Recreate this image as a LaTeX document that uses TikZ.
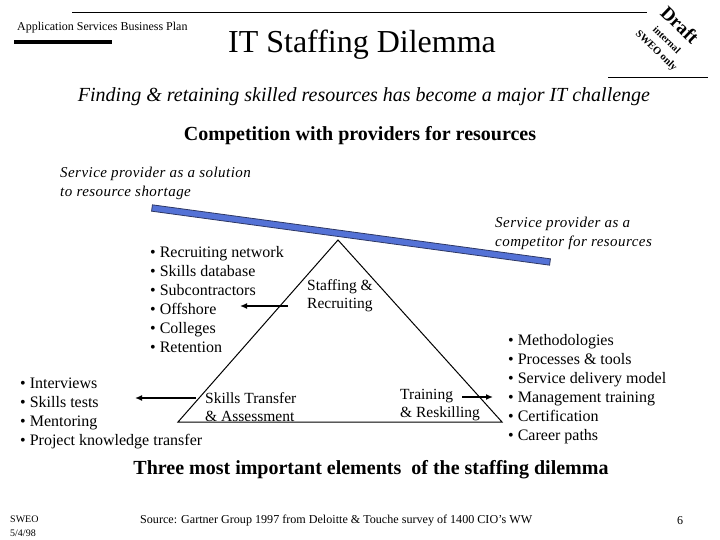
\documentclass[tikz,border=0pt]{standalone}
\usepackage{fontspec}
\setmainfont{Liberation Serif}
\usetikzlibrary{arrows.meta,calc}
\definecolor{barblue}{RGB}{84,114,214}
\definecolor{baredge}{RGB}{45,55,100}
\newcommand{\fsz}[2]{\fontsize{#1}{#2}\selectfont}
\begin{document}
\begin{tikzpicture}[x=1pt,y=-1pt,
  txt/.style={inner sep=0pt,anchor=west,align=left},
  listtxt/.style={txt,font=\fsz{16}{19}},
  labtxt/.style={txt,font=\fsz{15.5}{18}},
  spaced/.style={txt,font=\itshape\fsz{15}{19}\addfontfeature{LetterSpace=3}},
  arr/.style={line width=1.4pt,-{Latex[length=7pt,width=6pt]}},
  stamp/.style={inner sep=0pt,rotate=-44}]
\useasboundingbox (0,0) rectangle (720,540);
\fill[white] (0,0) rectangle (720,540);

% header
\draw[line width=0.8pt] (72,12) -- (647,12);
\node[txt,font=\fsz{12}{13}] (hdr) at (17,28) {Application Services Business Plan};
\draw[line width=4pt] (14,42) -- (112,42);
\node[inner sep=0pt,font=\fsz{32}{36}] (title) at (362,45) {IT Staffing Dilemma};

% draft stamp
\node[stamp,font=\bfseries\fsz{19}{20}] (draft) at (680,25) {Draft};
\node[stamp,font=\bfseries\fsz{10}{11}] (internal) at (667,40) {internal};
\node[stamp,font=\bfseries\fsz{10.5}{11}] (sweo) at (656,51) {SWEO only};
\draw[line width=0.8pt] (608,77) -- (708,77);

% subtitles
\node[inner sep=0pt,font=\itshape\fsz{20}{22}] (finding) at (364,97) {Finding \& retaining skilled resources has become a major IT challenge};
\node[inner sep=0pt,font=\bfseries\fsz{20}{22}] (comp) at (360,136) {Competition with providers for resources};

\node[spaced] (solution) at (60,183) {Service provider as a solution\\to resource shortage};
\node[spaced] (competitor) at (495,233) {Service provider as a\\competitor for resources};

% balance bar
\coordinate (bl) at (152,208);
\coordinate (br) at (550,262);
\filldraw[fill=barblue,draw=baredge,line width=0.8pt]
  ($(bl)!3.2pt!90:(br)$) -- ($(br)!3.2pt!-90:(bl)$) -- ($(br)!3.2pt!90:(bl)$) -- ($(bl)!3.2pt!-90:(br)$) -- cycle;

% triangle
\coordinate (apex) at (338,240);
\coordinate (baseL) at (178,422);
\coordinate (baseR) at (502,422);
\draw[line width=1pt] (baseL) -- (apex) -- (baseR) -- cycle;

% corner labels
\node[labtxt] (staff) at (307,296) {Staffing \&\\Recruiting};
\node[labtxt] (skills) at (205,407) {Skills Transfer\\\& Assessment};
\node[labtxt] (train) at (400,405) {Training\\\& Reskilling};

% lists
\node[listtxt] (listA) at (150,300) {\textbullet\ Recruiting network\\\textbullet\ Skills database\\\textbullet\ Subcontractors\\\textbullet\ Offshore\\\textbullet\ Colleges\\\textbullet\ Retention};
\node[listtxt] (listB) at (20,413) {\textbullet\ Interviews\\\textbullet\ Skills tests\\\textbullet\ Mentoring\\\textbullet\ Project knowledge transfer};
\node[listtxt] (listC) at (508,389) {\textbullet\ Methodologies\\\textbullet\ Processes \& tools\\\textbullet\ Service delivery model\\\textbullet\ Management training\\\textbullet\ Certification\\\textbullet\ Career paths};

% arrows
\coordinate (a1s) at (288,306);
\coordinate (a1e) at (240,306);
\draw[arr] (a1s) -- (a1e);
\coordinate (a2s) at (196,398);
\coordinate (a2e) at (135,398);
\draw[arr] (a2s) -- (a2e);
\coordinate (a3s) at (462,397);
\coordinate (a3e) at (493,397);
\draw[arr] (a3s) -- (a3e);

% bottom
\node[inner sep=0pt,font=\bfseries\fsz{20}{22}] (three) at (371,470) {Three most important elements\ \ of the staffing dilemma};
\node[txt,font=\fsz{10}{14}] (sweofoot) at (10,526) {SWEO\\5/4/98};
\node[txt,font=\fsz{12.1}{13}] (source) at (140,521) {Source: Gartner Group 1997 from Deloitte \& Touche survey of 1400 CIO's WW};
\node[txt,font=\fsz{12}{13}] (page) at (677,521) {6};
\end{tikzpicture}
\end{document}
